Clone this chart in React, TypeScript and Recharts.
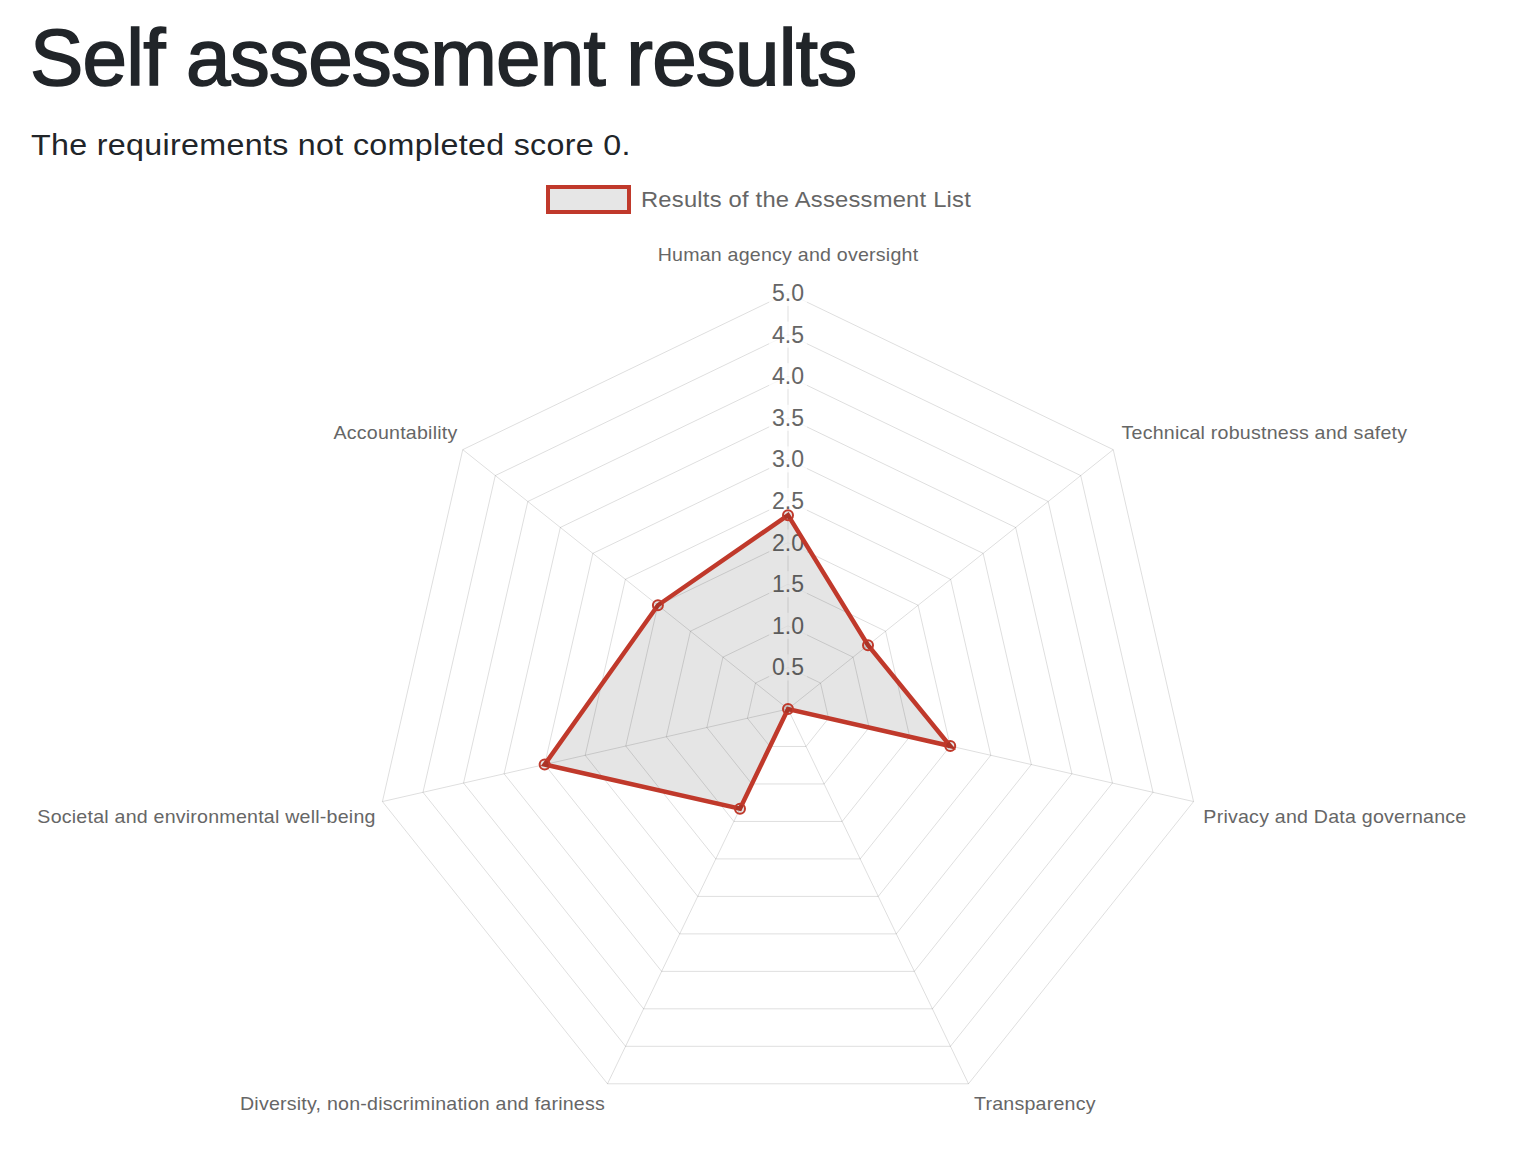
import React from 'react';
import {
  RadarChart,
  Radar,
  PolarGrid,
  PolarAngleAxis,
  PolarRadiusAxis,
} from 'recharts';

// Requirement names, in the order they go round the chart (clockwise from top)
const requirements = [
  'Human agency and oversight',
  'Technical robustness and safety',
  'Privacy and Data governance',
  'Transparency',
  'Diversity, non-discrimination and fariness',
  'Societal and environmental well-being',
  'Accountability',
];

// Scores (0-5 scale)
const scores = [2.33, 1.23, 2.0, 0, 1.33, 3.0, 2.0];

const radiusTicks = [0, 0.5, 1, 1.5, 2, 2.5, 3, 3.5, 4, 4.5, 5];

const seriesName = 'Results of the Assessment List';

const chartData = requirements.map((name, i) => ({ name, score: scores[i] }));

const FONT = '"Liberation Sans", Arial, Helvetica, sans-serif';
const RED = '#c0392b';
const CX = 788;
const CY = 709;

// point labels are a bit wider than Arial in the original (Helvetica Neue)
const AngleTick = ({ x, y, textAnchor, payload }: any) => {
  const up = y < CY;
  let dy = up ? -12 : 13;
  if (textAnchor === 'middle') dy = up ? -30 : 14;
  const dx = textAnchor === 'start' ? 2 : textAnchor === 'end' ? 1 : 0;
  return (
    <text
      transform={`translate(${x + dx},${y + dy}) scale(1.09,1)`}
      x={0}
      y={0}
      textAnchor={textAnchor}
      dominantBaseline="central"
      fill="#666"
      fontSize={18}
      letterSpacing={0.2}
      fontFamily={FONT}
    >
      {payload.value}
    </text>
  );
};

const RadiusTick = ({ x, y, payload }: any) => {
  if (payload.value === 0) return null;
  const label = Number(payload.value).toFixed(1);
  return (
    <g>
      <rect x={x - 19} y={y - 13} width={38} height={26} fill="rgba(255,255,255,0.75)" />
      <text
        x={x}
        y={y}
        textAnchor="middle"
        dominantBaseline="central"
        fill="#666"
        fontSize={23}
        fontFamily={FONT}
      >
        {label}
      </text>
    </g>
  );
};

export default function App() {
  return (
    <div
      style={{
        position: 'absolute',
        left: 0,
        top: 0,
        width: 1518,
        height: 1168,
        background: '#fff',
        fontFamily: FONT,
        overflow: 'hidden',
      }}
    >
      <div
        style={{
          position: 'absolute',
          left: 30,
          top: 10,
          fontSize: 80,
          color: '#212529',
          lineHeight: '96px',
          letterSpacing: -0.8,
          WebkitTextStroke: '1.6px #212529',
          whiteSpace: 'nowrap',
        }}
      >
        Self assessment results
      </div>
      <div
        style={{
          position: 'absolute',
          left: 31,
          top: 127,
          fontSize: 29,
          color: '#212529',
          lineHeight: '36px',
          letterSpacing: 0.3,
          transform: 'scaleX(1.11)',
          transformOrigin: 'left center',
          whiteSpace: 'nowrap',
        }}
      >
        The requirements not completed score 0.
      </div>

      {/* Legend */}
      <div
        style={{
          position: 'absolute',
          left: 546,
          top: 185,
          display: 'flex',
          alignItems: 'center',
          whiteSpace: 'nowrap',
        }}
      >
        <div
          style={{
            width: 77,
            height: 21,
            border: `4px solid ${RED}`,
            background: '#e6e6e6',
          }}
        />
        <span
          style={{
            marginLeft: 10,
            fontSize: 22,
            color: '#666',
            letterSpacing: 0.2,
            display: 'inline-block',
            transform: 'scaleX(1.08)',
            transformOrigin: 'left center',
          }}
        >
          {seriesName}
        </span>
      </div>

      <div style={{ position: 'absolute', left: 0, top: 0 }}>
        <RadarChart
          width={1518}
          height={1168}
          data={chartData}
          cx={CX}
          cy={CY}
          outerRadius={416}
          startAngle={90}
          endAngle={-270}
        >
          <PolarGrid gridType="polygon" stroke="#000" strokeOpacity={0.13} strokeWidth={1} />
          <PolarAngleAxis dataKey="name" tick={<AngleTick />} tickLine={false} axisLine={false} />
          <PolarRadiusAxis
            angle={90}
            domain={[0, 5]}
            ticks={radiusTicks as any}
            tickCount={11}
            tick={<RadiusTick />}
            axisLine={false}
            tickLine={false}
            {...({ zIndex: -50 } as any)}
          />
          <Radar
            name={seriesName}
            dataKey="score"
            stroke={RED}
            strokeWidth={4.5}
            fill="#000"
            fillOpacity={0.1}
            dot={{ r: 5, stroke: RED, strokeWidth: 2, fill: 'rgba(0,0,0,0.1)', fillOpacity: 1 }}
            isAnimationActive={false}
          />
        </RadarChart>
      </div>
    </div>
  );
}
